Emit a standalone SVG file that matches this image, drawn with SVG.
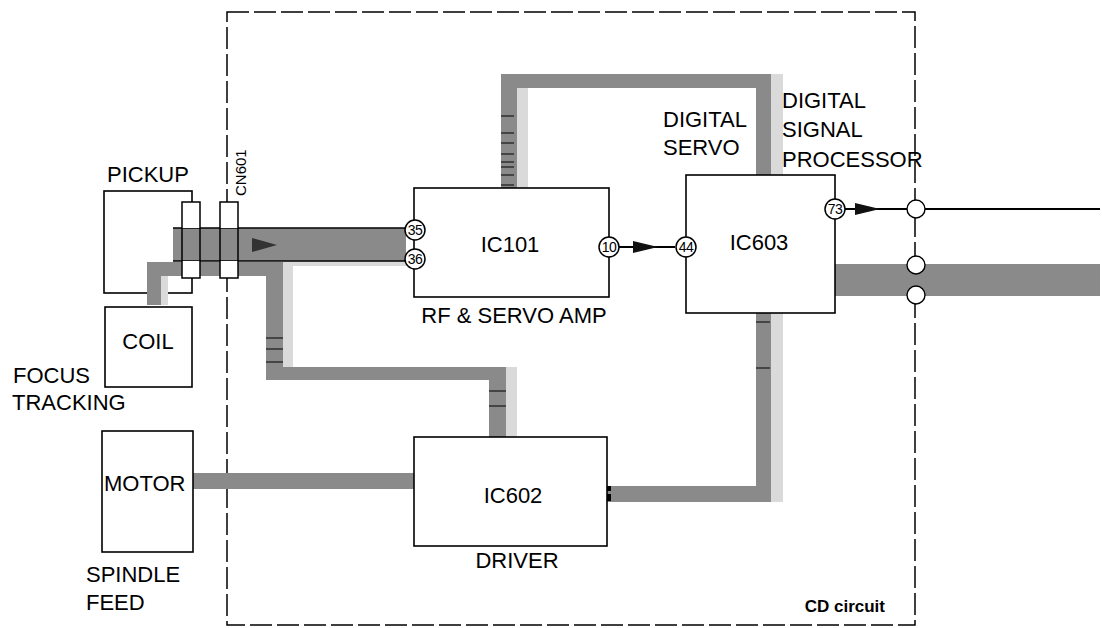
<svg xmlns="http://www.w3.org/2000/svg" width="1102" height="628" viewBox="0 0 1102 628">
<style>
.box{fill:#fff;stroke:#000;stroke-width:1.6}
.bus{fill:#8a8a8a}
.sh{fill:#dadada}
.t{font-family:"Liberation Sans",Arial,Helvetica,sans-serif;font-size:22px;fill:#000}
.pin circle{fill:#fff;stroke:#000;stroke-width:1.5}
.pin text{font-family:"Liberation Sans",Arial,sans-serif;font-size:14px;letter-spacing:-0.6px;text-anchor:middle;fill:#000}
.tick{stroke:#000;stroke-width:1}
.wire{stroke:#000;stroke-width:2;fill:none}
.arr{fill:#111}
.jn{fill:#fff;stroke:#000;stroke-width:1.4}
</style>
<rect width="1102" height="628" fill="#fff"/>
<g id="cd-circuit">
<rect x="227" y="12" width="688" height="613" fill="none" stroke="#000" stroke-width="1.5" stroke-dasharray="22 5"/>
<text class="t" x="885" y="612" font-weight="bold" text-anchor="end" style="font-size:17px">CD circuit</text>
</g>
<g id="pickup">
<rect class="box" x="104" y="191" width="88" height="102"/>
<text class="t" x="107" y="182">PICKUP</text>
</g>
<g id="connectors">
<rect class="sh" x="517" y="88" width="11" height="100"/>
<rect class="sh" x="771" y="74" width="12" height="101"/>
<rect class="sh" x="771" y="313" width="12" height="189"/>
<rect class="sh" x="283" y="261" width="10" height="106"/>
<rect class="sh" x="506" y="367" width="11" height="70"/>
<rect class="sh" x="161" y="276" width="7" height="29"/>
<rect class="sh" x="293" y="261" width="113" height="5"/>
<path class="bus" d="M501,188 V74 H771 V175 H756 V88 H517 V188 Z"/>
<path class="bus" d="M147,305 V262 H283 V367 H506 V437 H489 V380 H266 V276 H161 V305 Z"/>
<path class="bus" d="M607,486 H756 V313 H771 V502 H607 Z"/>
<rect class="bus" x="193" y="473" width="221" height="16"/>
<rect class="bus" x="173" y="228" width="233" height="33"/>
<line class="tick" x1="173" y1="228" x2="406" y2="228" style="stroke-width:1.5"/>
<line class="tick" x1="173" y1="261" x2="406" y2="261" style="stroke-width:1.5"/>
<polygon points="252,238 277,245 252,252" fill="#333"/>
<rect class="bus" x="835" y="264" width="265" height="32"/>
<g class="tick">
<line x1="501" y1="116" x2="514" y2="116"/>
<line x1="501" y1="133" x2="514" y2="133"/>
<line x1="501" y1="143" x2="514" y2="143"/>
<line x1="501" y1="154" x2="514" y2="154"/>
<line x1="501" y1="162" x2="514" y2="162"/>
<line x1="501" y1="167" x2="514" y2="167"/>
<line x1="501" y1="175" x2="514" y2="175"/>
<line x1="501" y1="185" x2="514" y2="185"/>
<line x1="266" y1="338" x2="283" y2="338"/>
<line x1="266" y1="349" x2="283" y2="349"/>
<line x1="266" y1="362" x2="283" y2="362"/>
<line x1="489" y1="391" x2="506" y2="391"/>
<line x1="489" y1="406" x2="506" y2="406"/>
<line x1="756" y1="322" x2="770" y2="322"/>
<line x1="756" y1="368" x2="770" y2="368"/>
</g>
<rect x="607" y="486" width="4" height="5" fill="#000"/>
<rect x="607" y="494" width="4" height="7" fill="#000"/>
<line class="wire" x1="619" y1="247" x2="675" y2="247"/>
<polygon class="arr" points="633,241 658,247 633,253"/>
<line class="wire" x1="845" y1="209" x2="1100" y2="209"/>
<polygon class="arr" points="855,203 880,209 855,215"/>
</g>
<g id="cn601">
<rect x="182" y="202" width="18" height="26" fill="#fff"/>
<rect x="182" y="261" width="18" height="17" fill="#fff"/>
<rect x="220" y="202" width="18" height="26" fill="#fff"/>
<rect x="220" y="261" width="18" height="17" fill="#fff"/>
<rect x="182" y="202" width="18" height="76" fill="none" stroke="#000" stroke-width="1.5"/>
<rect x="220" y="202" width="18" height="76" fill="none" stroke="#000" stroke-width="1.5"/>
<text class="t" transform="translate(246,196) rotate(-90)" style="font-size:15px">CN601</text>
</g>
<g id="coil">
<rect class="box" x="105" y="307" width="87" height="80"/>
<text class="t" x="148" y="349" text-anchor="middle">COIL</text>
<text class="t" x="13" y="383">FOCUS</text>
<text class="t" x="12" y="410">TRACKING</text>
</g>
<g id="motor">
<rect class="box" x="102" y="431" width="91" height="121"/>
<text class="t" x="104" y="491">MOTOR</text>
<text class="t" x="86" y="582">SPINDLE</text>
<text class="t" x="86" y="610">FEED</text>
</g>
<g id="ic101">
<rect class="box" x="414" y="188" width="195" height="109"/>
<text class="t" x="510" y="252" text-anchor="middle">IC101</text>
<text class="t" x="514" y="323" text-anchor="middle">RF &amp; SERVO AMP</text>
<g class="pin"><circle cx="415" cy="230" r="10"/><text x="415" y="235">35</text></g>
<g class="pin"><circle cx="415" cy="259" r="10"/><text x="415" y="264">36</text></g>
<g class="pin"><circle cx="609" cy="247" r="10"/><text x="609" y="252">10</text></g>
</g>
<g id="ic603">
<rect class="box" x="686" y="175" width="149" height="138"/>
<text class="t" x="759" y="250" text-anchor="middle">IC603</text>
<text class="t" x="663" y="127">DIGITAL</text>
<text class="t" x="663" y="155">SERVO</text>
<text class="t" x="782" y="108">DIGITAL</text>
<text class="t" x="782" y="137">SIGNAL</text>
<text class="t" x="782" y="167">PROCESSOR</text>
<g class="pin"><circle cx="686" cy="247" r="10"/><text x="686" y="252">44</text></g>
<g class="pin"><circle cx="835" cy="209" r="10"/><text x="835" y="214">73</text></g>
</g>
<g id="ic602">
<rect class="box" x="414" y="437" width="193" height="109"/>
<text class="t" x="513" y="503" text-anchor="middle">IC602</text>
<text class="t" x="517" y="568" text-anchor="middle">DRIVER</text>
</g>
<g id="junctions">
<circle class="jn" cx="916" cy="209" r="9"/>
<circle class="jn" cx="916" cy="265" r="9"/>
<circle class="jn" cx="916" cy="295" r="9"/>
</g>
</svg>
